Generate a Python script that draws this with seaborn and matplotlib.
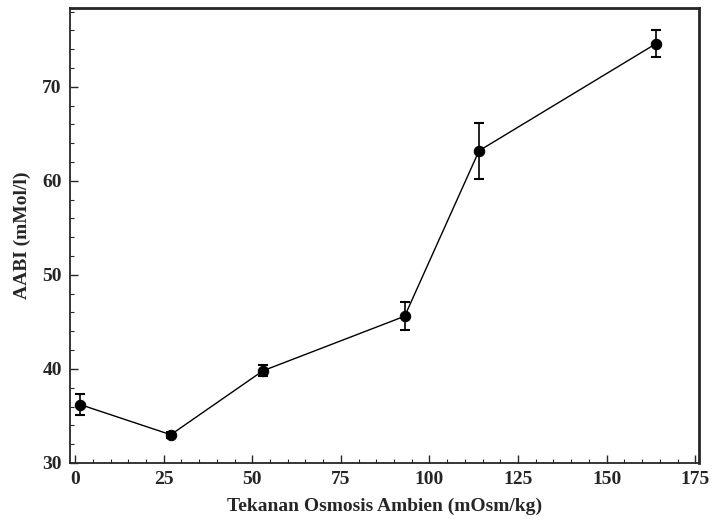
import matplotlib
matplotlib.use("Agg")
import matplotlib.pyplot as plt
import seaborn as sns
import pandas as pd
import numpy as np
from matplotlib.ticker import MultipleLocator

# values
osmosis = [1.5, 27, 53, 93, 114, 164]
aabi = [36.2, 33.0, 39.8, 45.6, 63.2, 74.6]
aabi_err = [1.1, 0.3, 0.6, 1.5, 3.0, 1.4]

x_ticks = [0, 25, 50, 75, 100, 125, 150, 175]
y_ticks = [30, 40, 50, 60, 70]

sns.set_style("ticks")
plt.rcParams['font.family'] = ['Liberation Serif', 'DejaVu Serif']

df = pd.DataFrame({"osm": osmosis, "aabi": aabi, "err": aabi_err})

fig = plt.figure(figsize=(7.23, 5.19), dpi=100)
ax = fig.add_axes([0.097, 0.108, 0.870, 0.877])

sns.lineplot(data=df, x="osm", y="aabi", ax=ax, color="black", linewidth=1.0,
             marker="o", markersize=7.5, markeredgecolor="black", zorder=3)
ax.errorbar(df["osm"], df["aabi"], yerr=df["err"], fmt="none", ecolor="black",
            elinewidth=1.2, capsize=3.5, capthick=1.5, zorder=2)

ax.set_xlim(-1.4, 176.1)
ax.set_ylim(30, 78.4)
ax.set_xticks(x_ticks)
ax.set_yticks(y_ticks)
ax.xaxis.set_minor_locator(MultipleLocator(5))
ax.yaxis.set_minor_locator(MultipleLocator(2))
ax.tick_params(axis="both", which="major", direction="in", length=6, width=1,
               labelsize=14, pad=6)
ax.tick_params(axis="both", which="minor", direction="in", length=3, width=0.8)
for lab in ax.get_xticklabels() + ax.get_yticklabels():
    lab.set_fontweight("bold")

for side in ["left", "bottom"]:
    ax.spines[side].set_linewidth(1.3)
for side in ["top", "right"]:
    ax.spines[side].set_linewidth(2.0)

ax.set_xlabel("Tekanan Osmosis Ambien (mOsm/kg)", fontsize=14, fontweight="bold", labelpad=7)
ax.set_ylabel("AABI (mMol/l)", fontsize=14, fontweight="bold", labelpad=8)

fig.savefig("out.png", dpi=100)
